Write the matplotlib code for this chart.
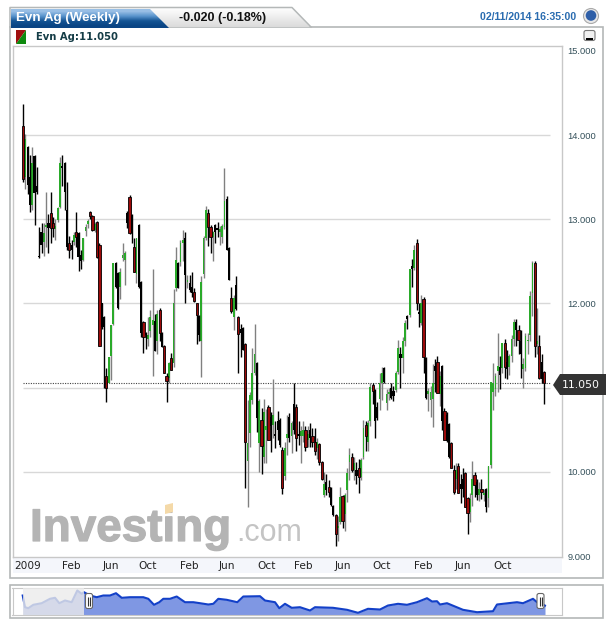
import numpy as np
import matplotlib
matplotlib.use('Agg')
import matplotlib.pyplot as plt
import matplotlib.patheffects as pe
from matplotlib.patches import Polygon, Rectangle, FancyBboxPatch, Circle

W, H = 613, 627

# Weekly candles: open, high, low, close
opens = [14.11, 13.50, 13.86, 13.50, 13.17, 13.75, 13.40, 12.56, 12.85, 12.73,
         12.91, 12.96, 13.08, 12.96, 12.88, 12.99, 13.15, 13.63, 13.67, 13.11,
         12.72, 12.70, 12.73, 12.85, 12.84, 12.58, 12.52, 12.86, 12.95, 13.09,
         13.04, 12.87, 12.97, 12.70, 12.00, 11.84, 11.14, 11.06, 11.38, 11.76,
         12.48, 12.36, 12.20, 12.54, 12.52, 13.08, 13.27, 13.05, 12.67, 12.35,
         12.93, 12.26, 11.78, 11.65, 11.58, 11.67, 11.75, 11.79, 11.55, 11.92,
         11.65, 11.50, 11.14, 11.12, 11.35, 11.29, 12.19, 12.48, 12.49, 12.72,
         12.78, 12.25, 12.24, 12.20, 12.14, 12.00, 11.85, 11.55, 12.35, 12.78,
         13.08, 12.91, 12.79, 12.93, 12.90, 12.85, 12.79, 12.91, 13.24, 12.66,
         12.07, 11.84, 12.22, 11.84, 11.70, 11.71, 11.52, 10.13, 10.46, 10.85,
         11.18, 11.29, 10.34, 10.62, 10.18, 10.50, 10.77, 10.65, 10.56, 10.45,
         10.60, 10.62, 10.26, 9.95, 10.40, 10.65, 10.42, 10.80, 10.77, 10.45,
         10.42, 10.42, 10.50, 10.38, 10.50, 10.42, 10.36, 10.28, 10.33, 10.12,
         9.72, 9.88, 9.82, 9.81, 9.60, 9.49, 9.33, 9.40, 9.71, 9.50,
         9.79, 10.12, 10.18, 10.02, 10.02, 10.05, 9.94, 10.18, 10.56, 10.35,
         10.60, 11.03, 10.97, 10.77, 10.86, 11.06, 11.23, 10.82, 10.92, 11.00,
         10.96, 10.97, 11.19, 11.40, 11.35, 11.55, 11.85, 11.86, 12.44, 12.42,
         12.72, 11.90, 11.77, 12.05, 11.35, 10.92, 10.85, 10.86, 11.26, 11.31,
         10.93, 11.26, 10.72, 10.68, 10.57, 10.34, 10.02, 9.92, 10.07, 9.85,
         9.92, 9.99, 9.69, 9.52, 9.73, 9.96, 9.88, 9.72, 9.80, 9.72,
         9.80, 9.69, 10.08, 10.95, 10.98, 11.20, 11.24, 11.23, 11.53, 11.30,
         11.25, 11.38, 11.58, 11.78, 11.69, 11.55, 11.22, 11.23, 11.55, 11.62,
         12.12, 12.48, 11.52, 11.50, 11.30, 11.19]
highs = [14.37, 14.01, 13.87, 13.76, 13.86, 13.76, 13.62, 12.91, 12.96, 12.96,
         13.33, 13.06, 13.33, 13.03, 13.00, 13.15, 13.74, 13.76, 13.68, 13.44,
         12.80, 12.76, 12.85, 13.09, 12.85, 12.64, 12.78, 12.95, 13.00, 13.10,
         13.05, 12.97, 12.98, 12.72, 12.01, 11.85, 11.23, 11.37, 11.75, 12.48,
         12.49, 12.37, 12.42, 12.72, 12.62, 13.10, 13.29, 13.06, 12.78, 12.78,
         12.94, 12.27, 11.79, 11.66, 11.84, 11.92, 12.41, 11.87, 11.92, 11.95,
         11.66, 11.51, 11.18, 11.30, 11.41, 12.17, 12.67, 12.49, 12.75, 12.87,
         12.85, 12.34, 12.34, 12.38, 12.18, 12.01, 11.86, 12.33, 12.80, 13.16,
         13.12, 12.93, 12.86, 12.95, 12.97, 12.92, 12.94, 13.61, 13.28, 12.67,
         12.20, 12.10, 12.33, 11.85, 11.76, 11.72, 11.53, 10.85, 10.95, 11.47,
         11.76, 11.30, 10.86, 10.76, 10.87, 10.75, 10.79, 10.71, 11.10, 10.60,
         10.72, 10.64, 10.29, 10.35, 10.68, 10.70, 10.60, 11.05, 10.80, 10.60,
         10.55, 10.60, 10.55, 10.55, 10.58, 10.52, 10.52, 10.40, 10.34, 10.13,
         10.00, 9.98, 9.90, 9.82, 9.61, 9.50, 9.48, 9.82, 9.73, 9.75,
         10.04, 10.28, 10.22, 10.18, 10.12, 10.15, 10.16, 10.62, 10.60, 10.62,
         11.06, 11.06, 10.98, 10.83, 11.18, 11.25, 11.24, 10.98, 11.00, 11.05,
         11.02, 11.20, 11.57, 11.48, 11.60, 11.80, 11.86, 12.41, 12.53, 12.70,
         12.77, 12.00, 12.10, 12.08, 11.37, 11.00, 11.02, 11.28, 11.34, 11.38,
         11.20, 11.27, 10.76, 10.71, 10.58, 10.35, 10.08, 10.10, 10.10, 9.98,
         10.05, 10.00, 9.70, 9.75, 10.13, 10.00, 9.92, 9.88, 9.92, 9.80,
         9.81, 10.07, 11.07, 11.29, 11.18, 11.65, 11.38, 11.53, 11.58, 11.45,
         11.40, 11.62, 11.81, 11.81, 11.75, 11.68, 11.35, 11.65, 11.65, 12.15,
         12.50, 12.50, 11.95, 11.63, 11.40, 11.20]
lows = [13.44, 13.36, 13.30, 13.09, 13.11, 12.93, 13.30, 12.54, 12.60, 12.57,
        12.67, 12.60, 12.72, 12.79, 12.75, 12.97, 13.13, 13.40, 13.11, 12.64,
        12.54, 12.53, 12.70, 12.67, 12.39, 12.41, 12.50, 12.80, 12.90, 13.00,
        12.86, 12.85, 12.54, 11.49, 11.70, 11.00, 10.83, 11.05, 11.09, 11.74,
        12.18, 11.94, 12.05, 12.50, 12.22, 12.90, 12.83, 12.72, 12.37, 12.24,
        12.18, 11.60, 11.41, 11.46, 11.50, 11.60, 11.14, 11.43, 11.40, 11.55,
        11.48, 11.18, 10.83, 11.05, 11.21, 11.25, 12.15, 12.19, 12.45, 12.50,
        12.00, 12.18, 12.14, 12.08, 12.02, 11.52, 11.55, 11.13, 12.30, 12.75,
        12.68, 12.60, 12.50, 12.72, 12.79, 12.70, 12.72, 12.88, 12.64, 12.28,
        11.89, 11.68, 11.92, 11.18, 11.36, 11.45, 9.81, 9.58, 10.30, 10.80,
        11.15, 10.47, 10.00, 9.98, 10.10, 10.10, 10.38, 10.23, 10.40, 10.28,
        10.38, 10.30, 9.74, 9.90, 10.20, 10.35, 10.22, 10.45, 10.25, 10.32,
        10.10, 10.35, 10.25, 10.30, 10.30, 10.30, 10.20, 10.15, 10.08, 9.90,
        9.70, 9.72, 9.70, 9.60, 9.48, 9.12, 9.18, 9.38, 9.33, 9.30,
        9.64, 9.90, 10.00, 9.90, 9.85, 9.75, 9.90, 10.15, 10.25, 10.25,
        10.55, 10.80, 10.40, 10.62, 10.74, 10.85, 11.06, 10.74, 10.85, 10.86,
        10.84, 10.95, 11.16, 11.00, 11.18, 11.50, 11.70, 11.84, 12.20, 12.40,
        11.92, 11.72, 11.75, 11.18, 10.86, 10.72, 10.65, 10.53, 10.95, 10.94,
        10.78, 10.50, 10.38, 10.35, 10.17, 10.05, 9.74, 9.80, 9.75, 9.63,
        9.70, 9.58, 9.26, 9.40, 9.60, 9.70, 9.66, 9.65, 9.68, 9.65,
        9.52, 9.58, 10.05, 10.74, 10.90, 10.95, 10.98, 11.18, 11.12, 11.10,
        11.15, 11.30, 11.50, 11.50, 11.40, 11.12, 11.00, 11.20, 11.40, 11.55,
        11.85, 11.37, 11.40, 11.10, 11.05, 10.81]
closes = [13.48, 13.95, 13.41, 13.17, 13.67, 13.31, 13.33, 12.55, 12.70, 12.84,
          12.93, 12.90, 12.90, 12.90, 12.92, 13.13, 13.67, 13.61, 13.33, 12.67,
          12.64, 12.64, 12.81, 12.79, 12.55, 12.51, 12.78, 12.91, 12.98, 13.04,
          12.87, 12.95, 12.55, 11.50, 11.72, 11.72, 11.00, 11.37, 11.75, 12.48,
          12.20, 11.95, 12.38, 12.58, 12.60, 12.96, 12.84, 12.84, 12.38, 12.78,
          12.20, 11.65, 11.60, 11.62, 11.62, 11.84, 11.80, 11.43, 11.87, 11.65,
          11.48, 11.18, 11.08, 11.29, 11.21, 12.01, 12.52, 12.19, 12.72, 12.76,
          12.34, 12.28, 12.16, 12.12, 12.03, 11.86, 11.63, 12.26, 12.78, 13.11,
          12.91, 12.79, 12.85, 12.85, 12.87, 12.88, 12.92, 13.22, 12.64, 12.28,
          11.91, 12.07, 11.94, 11.64, 11.65, 11.45, 10.36, 10.34, 10.91, 11.18,
          11.40, 10.64, 10.84, 10.31, 10.71, 10.55, 10.38, 10.55, 10.67, 10.42,
          10.50, 10.32, 9.81, 10.28, 10.45, 10.40, 10.58, 10.50, 10.40, 10.42,
          10.48, 10.50, 10.30, 10.45, 10.40, 10.36, 10.25, 10.35, 10.12, 9.92,
          9.85, 9.78, 9.76, 9.61, 9.49, 9.26, 9.36, 9.70, 9.42, 9.73,
          9.99, 10.20, 10.02, 10.10, 9.95, 9.94, 10.14, 10.52, 10.42, 10.58,
          11.01, 10.96, 10.60, 10.64, 11.06, 11.18, 11.07, 10.92, 10.95, 10.88,
          10.90, 11.18, 11.47, 11.35, 11.55, 11.77, 11.82, 12.41, 12.41, 12.64,
          12.01, 11.88, 12.01, 11.37, 10.88, 10.96, 10.95, 11.06, 11.20, 10.94,
          11.14, 10.60, 10.38, 10.37, 10.18, 10.05, 9.76, 10.02, 9.75, 9.80,
          9.80, 9.58, 9.51, 9.68, 9.91, 9.84, 9.72, 9.80, 9.76, 9.75,
          9.58, 10.07, 11.07, 11.05, 11.14, 11.26, 11.15, 11.53, 11.25, 11.22,
          11.38, 11.58, 11.78, 11.68, 11.57, 11.40, 11.28, 11.61, 11.57, 12.09,
          12.48, 11.50, 11.56, 11.12, 11.10, 11.05]
# down candles whose body shows red, the rest are plain black
redWeeks = [0, 12, 13, 20, 23, 29, 30, 32, 33, 36, 46, 48, 52, 59, 61, 62, 64, 74, 75,
            80, 81, 90, 93, 96, 103, 106, 112, 118, 122, 125, 126, 128, 129, 132, 135,
            138, 142, 145, 148, 151, 170, 173, 179, 182, 185, 186, 188, 191, 192, 195,
            198, 208, 214, 221, 223, 225]

lastPrice = 11.05
gridLevels = [10, 11, 12, 13, 14]
yTicks = [9, 10, 12, 13, 14, 15]   # 11.000 sits under the price tag
xTickWeeks = [2, 21, 38, 54, 72, 88, 105, 121, 138, 155, 173, 190, 207]
xTickLabels = ['2009', 'Feb', 'Jun', 'Oct', 'Feb', 'Jun', 'Oct', 'Feb', 'Jun', 'Oct', 'Feb', 'Jun', 'Oct']

# Navigator strip at the bottom
navPos = [22.7, 25, 28.3, 33.3, 41.7, 50, 55, 59.3, 65, 71.7, 77.3, 81.7, 84, 90, 96.7, 103.3,
          110, 116, 121.7, 130, 143.3, 148.3, 154, 159.3, 163.3, 170, 176.7, 185, 193.3, 200,
          208.3, 213.3, 218.3, 226.7, 237.3, 243.3, 260, 265, 275, 279.3, 285, 291.7, 300, 310,
          315, 333, 347, 358, 368, 380, 388, 398, 407, 417, 427, 432, 437, 440, 447, 463, 477,
          493, 497, 517, 523, 533, 537, 545]
navVal = [19, 7.3, 6.3, 9.7, 11.3, 15.7, 16.7, 11.3, 14, 12.3, 24, 20.7, 22.3, 19, 17.3, 19,
          19, 21.3, 16.7, 17.3, 17.3, 15.7, 9.7, 12.3, 15.7, 15.7, 18, 12.3, 12.3, 11.3,
          10, 10.7, 15.7, 14.7, 12.3, 18, 18.3, 14, 12.3, 6.3, 10.7, 6.7, 7.3, 4,
          7.3, 6.7, 4.7, 1.7, 5.7, 5, 9, 10.7, 9.7, 12.3, 16.3, 13, 13.3, 10, 11.3, 4.7, 2.3,
          3.3, 10, 12.3, 11.3, 15.7, 12.3, 8.9]

n = min(len(opens), len(highs), len(lows), len(closes))
weeks = np.arange(n)
o = np.array(opens[:n])
h = np.array(highs[:n])
l = np.array(lows[:n])
c = np.array(closes[:n])
up = c >= o
isRed = np.isin(weeks, redWeeks)

plt.rcParams['font.family'] = ['Liberation Sans', 'DejaVu Sans']
fig = plt.figure(figsize=(W / 100, H / 100), dpi=100)


def pxAxes(left, top, right, bottom, **kw):
    return fig.add_axes([left / W, 1 - bottom / H, (right - left) / W, (bottom - top) / H], **kw)


# Pixel canvas for the widget chrome
bg = pxAxes(0, 0, W, H)
bg.set_xlim(0, W)
bg.set_ylim(H, 0)
bg.axis('off')

bg.add_patch(Rectangle((10, 27), 592.5, 551, fc='white', ec='#b4b8b8', lw=1.2, zorder=1))
bg.add_patch(Rectangle((13, 557), 549, 16, fc='#f4f6fb', ec='none', zorder=1))

# Tabs
greyTab = Polygon([(11, 9), (292, 7), (310, 27), (11, 27)], closed=True, fc='none', ec='none')
bg.add_patch(greyTab)
im = bg.imshow(np.linspace(1, 0.85, 40).reshape(-1, 1), extent=(10, 312, 28, 7), cmap='gray',
               vmin=0, vmax=1, aspect='auto', zorder=2)
im.set_clip_path(greyTab)
bg.plot([10, 10, 292, 311], [27, 7.5, 7.5, 27], color='#b4b8b8', lw=1.1, zorder=3)
blueTab = Polygon([(11, 9), (150, 9), (169, 28), (11, 28)], closed=True, fc='none', ec='none')
bg.add_patch(blueTab)
grad = np.array([[0.60, 0.75, 0.90], [0.35, 0.58, 0.80], [0.08, 0.33, 0.58], [0.04, 0.27, 0.52]])
im2 = bg.imshow(grad.reshape(4, 1, 3), extent=(10, 170, 28, 9), aspect='auto', interpolation='bilinear', zorder=3)
im2.set_clip_path(blueTab)
bg.set_xlim(0, W)
bg.set_ylim(H, 0)

bg.text(16, 18, 'Evn Ag (Weekly)', color='white', fontsize=9.6, fontweight='bold', va='center', zorder=4)
bg.text(179, 17.5, '-0.020 (-0.18%)', color='#111111', fontsize=9.0, fontweight='bold', va='center', zorder=4)
bg.text(480, 17.5, '02/11/2014 16:35:00', color='#2a6cb0', fontsize=7.6, fontweight='bold', va='center', zorder=4)

# Round button and minimise button
bg.add_patch(Circle((591, 16), 7.5, fc='#e8e8e8', ec='#aaaaaa', lw=0.8, zorder=4))
bg.add_patch(Circle((591, 15.5), 5.3, fc='#2f5fa8', ec='none', zorder=5))
bg.add_patch(FancyBboxPatch((584, 30.5), 11, 10, boxstyle='round,pad=0,rounding_size=2',
                            fc='#f0f0f0', ec='#777777', lw=0.8, zorder=4))
bg.add_patch(Rectangle((586, 38), 7, 2, fc='black', ec='none', zorder=5))

# Legend swatch
bg.add_patch(Polygon([(16, 30), (26, 30), (16, 44)], closed=True, fc='#a01010', ec='none', zorder=4))
bg.add_patch(Polygon([(26, 30), (26, 44), (16, 44)], closed=True, fc='#0e8a0e', ec='none', zorder=4))
bg.text(36.5, 36.5, 'Evn Ag:11.050', family='DejaVu Sans', color='#143c46', fontsize=7.2,
        fontweight='bold', va='center', zorder=4)

# Navigator frame
bg.add_patch(Rectangle((10, 584.5), 592.5, 33.5, fc='white', ec='#b4b8b8', lw=1.2, zorder=1))

# Watermark sits behind the candles
wm = bg.text(30, 541, 'Investing', color='#b4b4b4', fontsize=33, fontweight='bold', va='baseline', zorder=2)
wm.set_path_effects([pe.withStroke(linewidth=0.9, foreground='#b4b4b4')])
bg.text(236, 541, '.com', color='#c4c4c4', fontsize=22, va='baseline', zorder=2)
bg.add_patch(Polygon([(165, 505), (173, 503), (173, 512), (165, 514)], closed=True, fc='#f4d9a8', ec='none', zorder=3))

# Main price chart
ax = pxAxes(12.5, 45.6, 562, 557)
ax.patch.set_alpha(0)
dx = 521 / 225
ax.set_xlim((12.5 - 23) / dx, (562 - 23) / dx)
ax.set_ylim(9 - 1 / 84.2, 15 + 5.4 / 84.2)

ax.hlines(gridLevels, -0.2, 227.8, color='#d8d8d8', lw=1.0, zorder=1)
ax.hlines(lastPrice, -0.2, 227.8, color='#444444', lw=0.8, linestyles=(0, (1, 1.2)), zorder=1.5)

ax.vlines(weeks[up], l[up], h[up], color='#808080', lw=1.0, zorder=2)
ax.vlines(weeks[~up], l[~up], h[~up], color='black', lw=1.0, zorder=3)
ax.bar(weeks[up], c[up] - o[up], bottom=o[up], width=0.75, color='#2aaa2a', lw=0, zorder=2.5)
ax.bar(weeks[~up & isRed], (o - c)[~up & isRed], bottom=c[~up & isRed], width=0.95, color='#9c0a0a',
       edgecolor='black', lw=0.6, zorder=3.5)
ax.bar(weeks[~up & ~isRed], (o - c)[~up & ~isRed], bottom=c[~up & ~isRed], width=0.95, color='black', lw=0, zorder=3.5)

ax.set_yticks(yTicks)
ax.set_yticklabels(['%.3f' % v for v in yTicks], fontsize=6.7, color='#34505a')
ax.yaxis.tick_right()
ax.tick_params(axis='y', length=0, pad=4)
ax.set_xticks(xTickWeeks)
ax.set_xticklabels(xTickLabels, family='DejaVu Sans', fontsize=7.6, color='#222222')
ax.tick_params(axis='x', length=0, pad=3)
for s in ax.spines.values():
    s.set_color('#c8c8c8')
    s.set_linewidth(1.0)

# Price tag (on top of the main axes)
top = pxAxes(0, 0, W, H)
top.set_xlim(0, W)
top.set_ylim(H, 0)
top.axis('off')
top.add_patch(Polygon([(553, 385), (560, 374), (606, 374), (606, 395), (560, 395)], closed=True, fc='#333333', ec='none'))
top.text(581, 384.5, '%.3f' % lastPrice, family='DejaVu Sans', color='white', fontsize=7.8, ha='center', va='center')

# Navigator
nav = pxAxes(12.5, 587.5, 562, 614.5)
nav.set_xlim(12.5, 562)
nav.set_ylim(0, 27)
nav.fill_between(navPos, navVal, 0, color='#7f97e3', lw=0, zorder=2)
nav.plot(navPos, navVal, color='#1340c8', lw=1.5, zorder=3)
nav.axvspan(22.5, 84, facecolor='#ebebeb', alpha=0.8, lw=0, zorder=4)
nav.set_xticks([])
nav.set_yticks([])
for s in nav.spines.values():
    s.set_color('#c8c8c8')
for hx in [89, 540.5]:
    nav.add_patch(FancyBboxPatch((hx - 3.5, 6), 7, 15, boxstyle='round,pad=0,rounding_size=2',
                                 fc='white', ec='#666666', lw=0.8, zorder=6))
    nav.vlines([hx - 1, hx + 1], 9, 18, color='#333333', lw=0.8, zorder=7)

fig.savefig('out.png', dpi=100)
